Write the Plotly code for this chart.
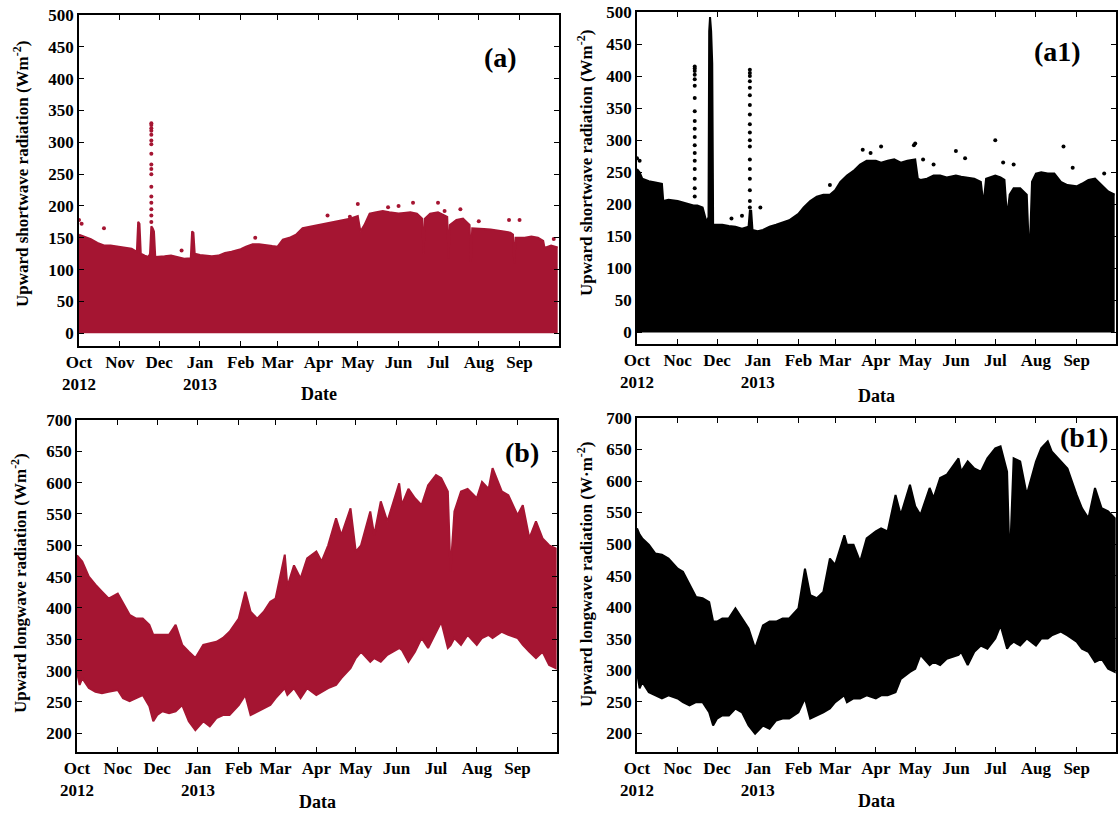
import plotly.graph_objects as go

FONT = "Liberation Serif, Times New Roman, serif"
RED = "#A51532"
BLACK = "#000000"

MONTHS = ["2012-10-01", "2012-11-01", "2012-12-01", "2013-01-01", "2013-02-01", "2013-03-01",
          "2013-04-01", "2013-05-01", "2013-06-01", "2013-07-01", "2013-08-01", "2013-09-01"]
LABELS_A = ["Oct<br>2012", "Nov", "Dec", "Jan<br>2013", "Feb", "Mar", "Apr", "May", "Jun", "Jul", "Aug", "Sep"]
LABELS_B = ["Oct<br>2012", "Noc", "Dec", "Jan<br>2013", "Feb", "Mar", "Apr", "May", "Jun", "Jul", "Aug", "Sep"]

# ---------- (a) upward shortwave, upper envelope ----------
a_dates = ["2012-10-01", "2012-10-05", "2012-10-10", "2012-10-15", "2012-10-20", "2012-10-25",
           "2012-11-01", "2012-11-05", "2012-11-10", "2012-11-14", "2012-11-15", "2012-11-16", "2012-11-17",
           "2012-11-20", "2012-11-23", "2012-11-24", "2012-11-25", "2012-11-26", "2012-11-27", "2012-11-28",
           "2012-12-01", "2012-12-05", "2012-12-10", "2012-12-15", "2012-12-20", "2012-12-25", "2012-12-26",
           "2012-12-27", "2012-12-28", "2013-01-01", "2013-01-05", "2013-01-10", "2013-01-15", "2013-01-20",
           "2013-01-25", "2013-02-01", "2013-02-05", "2013-02-10", "2013-02-15", "2013-02-20", "2013-02-25",
           "2013-03-01", "2013-03-05", "2013-03-10", "2013-03-15", "2013-03-20", "2013-03-25", "2013-04-01",
           "2013-04-05", "2013-04-10", "2013-04-15", "2013-04-20", "2013-04-25", "2013-05-01", "2013-05-03",
           "2013-05-06", "2013-05-10", "2013-05-15", "2013-05-20", "2013-05-25", "2013-06-01", "2013-06-05",
           "2013-06-10", "2013-06-15", "2013-06-19", "2013-06-20", "2013-06-21", "2013-06-25", "2013-07-01",
           "2013-07-05", "2013-07-08", "2013-07-09", "2013-07-10", "2013-07-15", "2013-07-20", "2013-07-25",
           "2013-07-26", "2013-07-27", "2013-08-01", "2013-08-05", "2013-08-10", "2013-08-15", "2013-08-20",
           "2013-08-25", "2013-08-27", "2013-08-28", "2013-08-29", "2013-09-05", "2013-09-10", "2013-09-15",
           "2013-09-19", "2013-09-20", "2013-09-25", "2013-09-30"]
a_upper = [155, 152, 148, 142, 138, 138,
           136, 134, 133, 128, 175, 172, 125,
           122, 120, 125, 168, 165, 160, 120,
           120, 121, 122, 120, 117, 118, 160,
           158, 125, 123, 122, 121, 122, 126,
           128, 132, 136, 140, 140, 138, 137,
           136, 147, 150, 155, 165, 167, 170,
           172, 174, 176, 178, 180, 184, 160,
           170, 188, 190, 192, 190, 188, 189,
           190, 188, 180, 125, 180, 188, 190,
           186, 183, 118, 170, 178, 180, 170,
           112, 165, 165, 164, 163, 162, 160,
           158, 155, 110, 150, 150, 152, 150,
           145, 134, 138, 135]
a_spike_dates = ["2012-11-25"] * 17
a_spike_vals = [175, 185, 195, 205, 215, 230, 250, 258, 265, 282, 297, 303, 312, 318, 322, 327, 330]
a_dot_dates = ["2012-10-01", "2012-10-03", "2012-10-20", "2012-12-18", "2013-02-12", "2013-04-08",
               "2013-04-25", "2013-05-01", "2013-05-24", "2013-06-01", "2013-06-12", "2013-07-01",
               "2013-07-06", "2013-07-18", "2013-08-01", "2013-08-24", "2013-09-01", "2013-09-27"]
a_dot_vals = [178, 172, 165, 130, 150, 185, 183, 203, 198, 200, 205, 205, 192, 195, 176, 178, 178, 148]

# ---------- (a1) upward shortwave, upper envelope ----------
a1_dates = ["2012-10-01", "2012-10-03", "2012-10-05", "2012-10-10", "2012-10-15", "2012-10-20",
            "2012-10-21", "2012-10-25", "2012-11-01", "2012-11-05", "2012-11-10", "2012-11-13", "2012-11-16",
            "2012-11-20", "2012-11-23", "2012-11-24 12:00", "2012-11-25", "2012-11-25 16:00",
            "2012-11-26 12:00", "2012-11-27 08:00", "2012-11-27 20:00", "2012-11-28", "2012-12-01",
            "2012-12-05", "2012-12-10", "2012-12-15", "2012-12-20", "2012-12-25", "2012-12-26", "2012-12-27",
            "2012-12-28", "2013-01-01", "2013-01-05", "2013-01-10", "2013-01-15", "2013-01-20", "2013-01-25",
            "2013-02-01", "2013-02-05", "2013-02-10", "2013-02-15", "2013-02-20", "2013-02-25", "2013-03-01",
            "2013-03-05", "2013-03-10", "2013-03-15", "2013-03-20", "2013-03-25", "2013-04-01", "2013-04-05",
            "2013-04-10", "2013-04-15", "2013-04-20", "2013-04-25", "2013-05-01", "2013-05-03", "2013-05-05",
            "2013-05-10", "2013-05-15", "2013-05-20", "2013-05-25", "2013-06-01", "2013-06-05", "2013-06-10",
            "2013-06-15", "2013-06-20", "2013-06-22", "2013-06-24", "2013-07-01", "2013-07-05", "2013-07-08",
            "2013-07-10", "2013-07-12", "2013-07-15", "2013-07-20", "2013-07-25", "2013-07-27", "2013-07-29",
            "2013-08-01", "2013-08-05", "2013-08-10", "2013-08-15", "2013-08-20", "2013-08-25", "2013-09-01",
            "2013-09-05", "2013-09-10", "2013-09-15", "2013-09-20", "2013-09-25", "2013-09-30"]
a1_upper = [255, 250, 240, 236, 234, 232,
            205, 207, 205, 203, 200, 198, 198,
            195, 172, 180, 470, 492,
            470, 420, 240, 168, 168,
            168, 166, 165, 162, 165, 190, 190,
            160, 158, 160, 165, 168, 172, 175,
            185, 195, 205, 212, 215, 215, 222,
            235, 245, 252, 262, 268, 268, 265,
            268, 270, 265, 268, 270, 240, 238,
            240, 245, 245, 242, 245, 243, 242,
            240, 235, 200, 240, 245, 242, 238,
            180, 215, 225, 225, 215, 110, 235,
            248, 250, 248, 248, 235, 230, 228,
            232, 238, 240, 230, 220, 215]
a1_spike1_dates = ["2012-11-14"] * 18
a1_spike1_vals = [212, 225, 240, 255, 268, 280, 292, 305, 318, 330, 345, 366, 385, 395, 402, 408, 412, 415]
a1_spike2_dates = ["2012-12-26"] * 18
a1_spike2_vals = [195, 205, 222, 240, 255, 270, 290, 300, 312, 325, 340, 355, 370, 382, 392, 400, 405, 410]
a1_dot_dates = ["2012-10-01", "2012-10-03", "2012-12-12", "2012-12-20", "2013-01-03", "2013-02-25",
                "2013-03-22", "2013-03-28", "2013-04-05", "2013-04-30", "2013-05-01", "2013-05-07",
                "2013-05-15", "2013-06-01", "2013-06-08", "2013-07-01", "2013-07-07", "2013-07-15",
                "2013-08-22", "2013-08-29", "2013-09-22"]
a1_dot_vals = [272, 268, 178, 182, 195, 230, 285, 280, 290, 292, 295, 270, 262, 283, 272, 300, 265,
               262, 290, 257, 248]

# ---------- (b) upward longwave envelopes ----------
lw_dates = ["2012-10-01", "2012-10-03", "2012-10-05", "2012-10-10", "2012-10-15", "2012-10-20",
            "2012-10-25", "2012-11-01", "2012-11-05", "2012-11-10", "2012-11-15", "2012-11-20", "2012-11-25",
            "2012-11-28", "2012-12-01", "2012-12-05", "2012-12-10", "2012-12-15", "2012-12-20", "2012-12-25",
            "2012-12-30", "2013-01-05", "2013-01-10", "2013-01-15", "2013-01-20", "2013-01-25", "2013-02-01",
            "2013-02-06", "2013-02-10", "2013-02-15", "2013-02-20", "2013-02-25", "2013-03-01", "2013-03-08",
            "2013-03-10", "2013-03-15", "2013-03-20", "2013-03-25", "2013-04-01", "2013-04-05", "2013-04-10",
            "2013-04-16", "2013-04-20", "2013-04-27", "2013-05-01", "2013-05-05", "2013-05-12", "2013-05-15",
            "2013-05-20", "2013-05-25", "2013-06-03", "2013-06-05", "2013-06-10", "2013-06-15", "2013-06-20",
            "2013-06-25", "2013-07-01", "2013-07-05", "2013-07-10", "2013-07-12", "2013-07-15", "2013-07-20",
            "2013-07-25", "2013-08-01", "2013-08-05", "2013-08-10", "2013-08-13", "2013-08-20", "2013-08-25",
            "2013-09-01", "2013-09-05", "2013-09-10", "2013-09-15", "2013-09-20", "2013-09-25", "2013-09-30"]
b_upper = [484, 478, 474, 450, 437, 426,
           415, 423, 407, 389, 383, 383, 373,
           357, 357, 357, 357, 373, 341, 330,
           320, 341, 344, 346, 352, 362, 383,
           426, 394, 383, 394, 410, 415, 485,
           434, 468, 447, 479, 490, 474, 500,
           543, 516, 559, 490, 500, 554, 516,
           570, 538, 599, 564, 590, 575, 564,
           596, 612, 607, 586, 458, 554, 586,
           590, 575, 601, 590, 623, 586, 580,
           548, 564, 511, 538, 511, 500, 495]
b_lower = [298, 277, 288, 272, 266, 264,
           266, 269, 256, 251, 256, 261, 243,
           219, 229, 235, 232, 235, 245, 219,
           205, 219, 211, 224, 229, 229, 245,
           261, 229, 235, 240, 245, 256, 272,
           261, 272, 256, 272, 261, 266, 272,
           277, 288, 304, 320, 330, 314, 320,
           314, 325, 336, 333, 314, 330, 352,
           336, 362, 378, 336, 340, 352, 341,
           357, 341, 352, 357, 352, 362, 357,
           352, 341, 330, 320, 330, 309, 304]

# ---------- (b1) upward longwave envelopes ----------
b1_upper = [525, 515, 509, 499, 485, 483,
            477, 461, 456, 435, 416, 414, 408,
            377, 377, 382, 382, 398, 382, 366,
            334, 371, 377, 377, 382, 382, 398,
            461, 419, 414, 424, 477, 467, 514,
            499, 499, 472, 509, 520, 525, 520,
            578, 546, 594, 560, 546, 589, 573,
            605, 610, 636, 615, 631, 620, 615,
            636, 652, 655, 615, 467, 636, 631,
            578, 631, 652, 663, 647, 631, 620,
            578, 557, 541, 589, 557, 552, 541]
b1_lower = [297, 271, 281, 265, 260, 255,
            260, 255, 249, 244, 249, 249, 233,
            212, 223, 228, 228, 239, 233, 212,
            199, 212, 207, 220, 223, 223, 233,
            255, 223, 228, 233, 239, 249, 260,
            249, 255, 255, 260, 255, 260, 260,
            265, 286, 297, 302, 324, 308, 313,
            308, 318, 324, 329, 308, 329, 339,
            334, 350, 371, 334, 340, 345, 339,
            350, 339, 350, 350, 355, 361, 355,
            345, 334, 329, 313, 318, 302, 297]


def polygon(dates, upper, lower):
    return list(dates) + list(dates)[::-1], list(upper) + list(lower)[::-1]


fig = go.Figure()

# (a)
fig.add_trace(go.Scatter(x=a_dates, y=a_upper, mode="lines", fill="tozeroy", fillcolor=RED,
                         line=dict(color=RED, width=2), xaxis="x", yaxis="y"))
fig.add_trace(go.Scatter(x=a_spike_dates + a_dot_dates, y=a_spike_vals + a_dot_vals, mode="markers",
                         marker=dict(color=RED, size=4), xaxis="x", yaxis="y"))
# (a1)
fig.add_trace(go.Scatter(x=a1_dates, y=a1_upper, mode="lines", fill="tozeroy", fillcolor=BLACK,
                         line=dict(color=BLACK, width=2), xaxis="x2", yaxis="y2"))
fig.add_trace(go.Scatter(x=a1_spike1_dates + a1_spike2_dates + a1_dot_dates,
                         y=a1_spike1_vals + a1_spike2_vals + a1_dot_vals, mode="markers",
                         marker=dict(color=BLACK, size=4), xaxis="x2", yaxis="y2"))
# (b)
px, py = polygon(lw_dates, b_upper, b_lower)
fig.add_trace(go.Scatter(x=px, y=py, mode="lines", fill="toself", fillcolor=RED,
                         line=dict(color=RED, width=2), xaxis="x3", yaxis="y3"))
# (b1)
px, py = polygon(lw_dates, b1_upper, b1_lower)
fig.add_trace(go.Scatter(x=px, y=py, mode="lines", fill="toself", fillcolor=BLACK,
                         line=dict(color=BLACK, width=2), xaxis="x4", yaxis="y4"))

# the page's default 8px body margin is removed in post_script, so paper pixels == window pixels
W, H = 1118, 814


def xd(l, r):
    return [l / W, min(1.0, r / W)]


def yd(top, bottom):
    return [1 - bottom / H, 1 - top / H]


tickfont = dict(family=FONT, size=17, color="black", weight="bold")
common_x = dict(type="date", range=["2012-10-01", "2013-10-01"], tickmode="array", tickvals=MONTHS,
                ticks="inside", ticklen=5, tickwidth=1.2, tickcolor="black", showline=True,
                linecolor="black", linewidth=1.6, mirror="ticks", showgrid=False, zeroline=False,
                tickfont=tickfont, tickangle=0, automargin=False, ticklabeloverflow="allow")
common_y = dict(ticks="inside", ticklen=5, tickwidth=1.2, tickcolor="black", showline=True,
                linecolor="black", linewidth=1.6, mirror="ticks", showgrid=False, zeroline=False,
                tickfont=tickfont, tickmode="array", automargin=False, ticklabeloverflow="allow")

fig.update_layout(
    template="none",
    width=W, height=H, margin=dict(l=0, r=0, t=0, b=0, autoexpand=False), showlegend=False,
    plot_bgcolor="white", paper_bgcolor="white",
    xaxis=dict(common_x, domain=xd(79, 559), anchor="y", ticktext=LABELS_A),
    yaxis=dict(common_y, domain=yd(15, 346), anchor="x", range=[-20, 500],
               tickvals=[0, 50, 100, 150, 200, 250, 300, 350, 400, 450, 500]),
    xaxis2=dict(common_x, domain=xd(637, 1116), anchor="y2", ticktext=LABELS_B),
    yaxis2=dict(common_y, domain=yd(12, 344), anchor="x2", range=[-18, 500],
                tickvals=[0, 50, 100, 150, 200, 250, 300, 350, 400, 450, 500]),
    xaxis3=dict(common_x, domain=xd(77, 557), anchor="y3", ticktext=LABELS_B),
    yaxis3=dict(common_y, domain=yd(420, 752), anchor="x3", range=[170, 700],
                tickvals=[200, 250, 300, 350, 400, 450, 500, 550, 600, 650, 700]),
    xaxis4=dict(common_x, domain=xd(637, 1116), anchor="y4", ticktext=LABELS_B),
    yaxis4=dict(common_y, domain=yd(418, 752), anchor="x4", range=[170, 700],
                tickvals=[200, 250, 300, 350, 400, 450, 500, 550, 600, 650, 700]),
)

ann_font = dict(family=FONT, size=17, color="black", weight="bold")
panel_font = dict(family=FONT, size=28, color="black", weight="bold")


def ann(text, x, y, font, angle=0):
    fig.add_annotation(text=text, x=x / W, y=1 - y / H, xref="paper", yref="paper",
                       showarrow=False, font=font, textangle=angle, xanchor="center", yanchor="middle")


ann("Upward shortwave radiation (Wm<sup>-2</sup>)", 21, 174, ann_font, -90)
ann("Upward shortwave radiation (Wm<sup>-2</sup>)", 585, 163, ann_font, -90)
ann("Upward longwave radiation (Wm<sup>-2</sup>)", 19, 583, ann_font, -90)
ann("Upward longwave radiation (W·m<sup>-2</sup>)", 585, 575, ann_font, -90)
ann("Date", 319, 394, dict(ann_font, size=18))
ann("Data", 876, 396, dict(ann_font, size=18))
ann("Data", 317, 802, dict(ann_font, size=18))
ann("Data", 876, 801, dict(ann_font, size=18))
ann("(a)", 500, 58, panel_font)
ann("(a1)", 1057, 52, panel_font)
ann("(b)", 522, 452, panel_font)
ann("(b1)", 1084, 437, panel_font)

fig.write_html("out.html", config={"displayModeBar": False},
               post_script="document.body.style.margin='0';document.body.style.overflow='hidden';")
